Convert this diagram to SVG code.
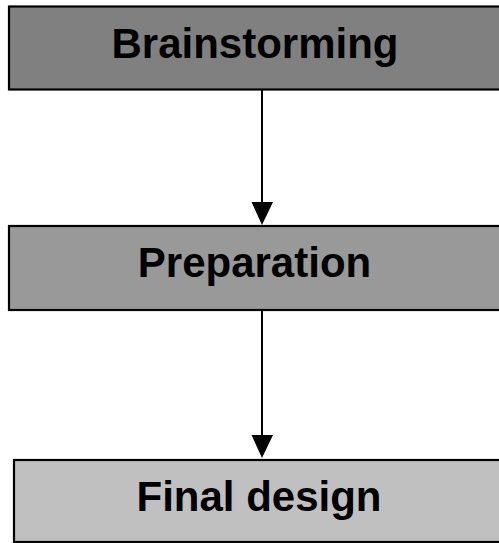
<svg xmlns="http://www.w3.org/2000/svg" width="499" height="543" viewBox="0 0 499 543">
<style>
.box{stroke:#000;stroke-width:2.2}
.lbl{font-family:"Liberation Sans",Arial,sans-serif;font-weight:bold;font-size:42px;fill:#000;text-anchor:middle}
.conn{stroke:#000;stroke-width:2;fill:none}
.head{fill:#000}
</style>
<rect width="499" height="543" fill="#fff"/>
<g id="brainstorming">
<rect class="box" x="9" y="6.5" width="500" height="83" fill="#808080"/>
<text class="lbl" x="255" y="57.5">Brainstorming</text>
</g>
<g id="preparation">
<rect class="box" x="9" y="226" width="500" height="84" fill="#999999"/>
<text class="lbl" x="254.5" y="277">Preparation</text>
</g>
<g id="final-design">
<rect class="box" x="14" y="460" width="500" height="82" fill="#c0c0c0"/>
<text class="lbl" x="259" y="510.5">Final design</text>
</g>
<g id="connectors">
<line class="conn" x1="262" y1="90" x2="262" y2="204"/>
<polygon class="head" points="251.5,202 273,202 262,225"/>
<line class="conn" x1="262" y1="311" x2="262" y2="437"/>
<polygon class="head" points="251.5,435 273,435 262,458"/>
</g>
</svg>
